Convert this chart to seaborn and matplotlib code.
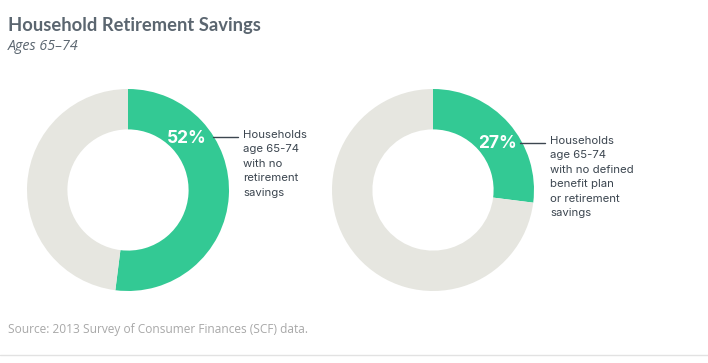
import matplotlib
matplotlib.use("Agg")
import matplotlib.pyplot as plt
import seaborn as sns

# data
pct_values = [52, 27]
pct_labels = ["52%", "27%"]
descriptions = [
    "Households\nage 65-74\nwith no\nretirement\nsavings",
    "Households\nage 65-74\nwith no defined\nbenefit plan\nor retirement\nsavings",
]

GREEN = "#33c994"
GREY = "#e6e6e0"
TITLE_COL = "#5b6670"
TEXT_COL = "#3c4650"

sns.set_theme(style="white")
plt.rcParams["font.family"] = ["Lato", "DejaVu Sans"]

W, H = 708, 363
fig = plt.figure(figsize=(W / 100, H / 100), dpi=100)
fig.patch.set_facecolor("white")


def fx(px):
    return px / W


def fy(py):
    return 1 - py / H


R = 101  # outer radius, px
centers = [(128, 190), (433, 190)]
label_pos = [(187, 138), (497, 144)]
line_seg = [(213, 238, 137), (520, 545, 143)]

for i, (cx, cy) in enumerate(centers):
    ax = fig.add_axes([fx(cx - R), fy(cy + R), 2 * R / W, 2 * R / H])
    v = pct_values[i]
    ax.pie([v, 100 - v], colors=[GREEN, GREY], startangle=90, counterclock=False,
           radius=1, wedgeprops=dict(width=0.4, edgecolor="none"))
    ax.set_xlim(-1, 1)
    ax.set_ylim(-1, 1)
    ax.set_aspect("auto")
    ax.axis("off")

    lx, ly = label_pos[i]
    fig.text(fx(lx), fy(ly), pct_labels[i], color="white", fontsize=12.5,
             fontweight="bold", ha="center", va="center", family=["Inter", "DejaVu Sans"])
    x0, x1, yy = line_seg[i]
    fig.add_artist(plt.Line2D([fx(x0), fx(x1)], [fy(yy), fy(yy)], color=TEXT_COL, lw=1))
    fig.text(fx(x1 + 5), fy(yy - 7), descriptions[i], color=TEXT_COL, fontsize=8.2,
             ha="left", va="top", linespacing=1.55, family=["Inter", "DejaVu Sans"])

fig.text(fx(8), fy(26), "Household Retirement Savings", color=TITLE_COL,
         fontsize=13.2, fontweight="bold", ha="left", va="center")
fig.text(fx(8), fy(46), "Ages 65\u201374", color=TITLE_COL, fontsize=10.3,
         style="italic", ha="left", va="center", family=["Open Sans", "DejaVu Sans"])
fig.text(fx(8), fy(330), "Source: 2013 Survey of Consumer Finances (SCF) data.",
         color="#a8a8a8", fontsize=8.6, ha="left", va="center",
         family=["Open Sans", "DejaVu Sans"])
fig.add_artist(plt.Line2D([0, 1], [fy(355), fy(355)], color="#e2e2e2", lw=1))

fig.savefig("out.png", dpi=100, facecolor="white")
